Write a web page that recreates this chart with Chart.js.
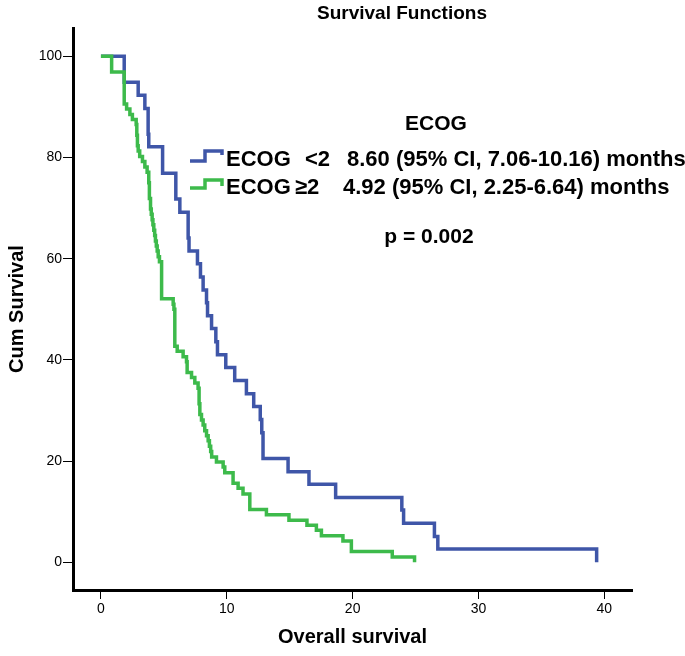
<!DOCTYPE html>
<html>
<head>
<meta charset="utf-8">
<script src="https://cdn.jsdelivr.net/npm/chart.js@4.4.1/dist/chart.umd.min.js"></script>
<style>
  html, body { margin: 0; padding: 0; background: #fff; }
  canvas { display: block; }
</style>
</head>
<body>
<canvas id="km" width="685" height="656"></canvas>
<script>
// Kaplan-Meier steps: time of each drop (months) and cum survival (%) after it
const ecogLowTimes = [0, 1.85, 2.96, 3.49, 3.75, 3.80, 4.90, 5.95, 6.27, 6.93, 7.00, 7.67, 7.91, 8.12,
  8.39, 8.47, 8.79, 9.13, 9.26, 9.92, 10.63, 11.56, 12.14, 12.66, 12.78, 12.88, 14.87, 16.53, 18.65,
  23.91, 24.05, 26.50, 26.77, 39.39];
const ecogLowSurvival = [100, 94.9, 92.3, 89.7, 84.6, 82.1, 76.9, 71.8, 69.2, 64.1, 61.5, 59.0, 56.4, 53.8,
  51.3, 48.7, 46.2, 43.6, 41.0, 38.5, 35.9, 33.3, 30.8, 28.2, 25.6, 20.5, 17.9, 15.4, 12.8,
  10.3, 7.7, 5.1, 2.6, 0];

const ecogHighTimes = [0, 0.85, 1.85, 2.04, 2.30, 2.50, 2.80, 2.85, 2.90, 2.96, 3.08, 3.30, 3.49, 3.67,
  3.80, 3.85, 3.94, 4.00, 4.07, 4.13, 4.20, 4.27, 4.33, 4.40, 4.47, 4.55, 4.65, 4.82, 5.74, 5.80,
  5.87, 6.06, 6.53, 6.80, 6.85, 7.20, 7.46, 7.72, 7.80, 7.86, 7.99, 8.12, 8.25, 8.39, 8.52, 8.62,
  8.72, 8.80, 9.18, 9.71, 9.84, 10.50, 10.90, 11.29, 11.83, 13.15, 14.94, 16.37, 17.12, 17.52,
  19.23, 19.90, 23.15, 24.92];
const ecogHighSurvival = [100, 96.9, 90.6, 89.6, 88.5, 87.5, 86.5, 84.4, 82.3, 81.3, 80.2, 79.2, 78.1, 77.1,
  75.0, 71.9, 69.8, 68.8, 67.7, 66.7, 65.6, 64.6, 63.5, 62.5, 61.5, 60.4, 59.4, 52.1, 51.0, 50.0,
  42.7, 41.7, 40.6, 39.6, 37.5, 36.5, 35.4, 34.4, 31.3, 29.2, 28.1, 27.1, 26.0, 25.0, 24.0, 22.9,
  21.9, 20.8, 19.8, 18.8, 17.7, 15.6, 14.6, 13.5, 10.4, 9.4, 8.3, 7.3, 6.3, 5.2,
  4.2, 2.1, 1.0, 0];

const xTicks = [0, 10, 20, 30, 40];
const yTicks = [0, 20, 40, 60, 80, 100];

const groupNames = ['ECOG', 'ECOG'];
const groupCuts = ['<2', '≥2'];
const groupMedians = ['8.60 (95% CI, 7.06-10.16) months', '4.92 (95% CI, 2.25-6.64) months'];
const colors = ['#3f56a8', '#3dba4b'];

const FONT = '"Liberation Sans", Arial, Helvetica, sans-serif';

function toPoints(times, surv) {
  return times.map((t, i) => ({ x: t, y: surv[i] }));
}

const annotations = {
  id: 'annotations',
  afterDraw(chart) {
    const ctx = chart.ctx;
    ctx.save();
    ctx.fillStyle = '#000';
    ctx.textBaseline = 'alphabetic';

    ctx.font = 'bold 19px ' + FONT;
    ctx.textAlign = 'center';
    ctx.fillText('Survival Functions', 402, 19);

    ctx.font = 'bold 21px ' + FONT;
    ctx.fillText('ECOG', 436, 130);
    ctx.fillText('p = 0.002', 429, 243);

    // legend rows: step-shaped symbol + text
    const rows = [
      { low: 161, high: 151, end: 155, base: 166, cutX: 305, medX: 347 },
      { low: 188, high: 180, end: 186, base: 194, cutX: 295, medX: 343 }
    ];
    ctx.font = 'bold 22px ' + FONT;
    ctx.textAlign = 'left';
    rows.forEach((r, i) => {
      ctx.strokeStyle = colors[i];
      ctx.lineWidth = 3.5;
      ctx.lineJoin = 'miter';
      ctx.beginPath();
      ctx.moveTo(190, r.low);
      ctx.lineTo(205, r.low);
      ctx.lineTo(205, r.high);
      ctx.lineTo(222, r.high);
      ctx.lineTo(222, r.end);
      ctx.stroke();
      ctx.fillText(groupNames[i], 226, r.base);
      ctx.fillText(groupCuts[i], r.cutX, r.base);
      ctx.fillText(groupMedians[i], r.medX, r.base);
    });
    ctx.restore();
  }
};

new Chart(document.getElementById('km'), {
  type: 'line',
  data: {
    datasets: [
      {
        label: 'ECOG <2',
        data: toPoints(ecogLowTimes, ecogLowSurvival),
        borderColor: colors[0],
        order: 1
      },
      {
        label: 'ECOG ≥2',
        data: toPoints(ecogHighTimes, ecogHighSurvival),
        borderColor: colors[1],
        order: 0
      }
    ]
  },
  options: {
    responsive: false,
    animation: false,
    layout: { padding: { top: 28, right: 53, left: 0, bottom: 0 } },
    elements: {
      line: { stepped: 'before', borderWidth: 3.5, fill: false, borderJoinStyle: 'miter', borderCapStyle: 'butt' },
      point: { radius: 0 }
    },
    plugins: { legend: { display: false }, title: { display: false }, tooltip: { enabled: false } },
    scales: {
      x: {
        type: 'linear',
        min: -2.22,
        max: 42.2,
        afterBuildTicks: s => { s.ticks = xTicks.map(v => ({ value: v })); },
        afterFit: s => { s.height = 66; },
        grid: { drawOnChartArea: false, drawTicks: true, tickLength: 9, color: '#000', lineWidth: 1 },
        border: { display: true, color: '#000', width: 3 },
        ticks: { color: '#000', font: { family: FONT, size: 14 }, padding: 2, maxRotation: 0 },
        title: { display: true, text: 'Overall survival', color: '#000',
          font: { family: FONT, size: 20, weight: 'bold' }, padding: { top: 0, bottom: 7 } }
      },
      y: {
        type: 'linear',
        min: -5.5,
        max: 105.6,
        afterBuildTicks: s => { s.ticks = yTicks.map(v => ({ value: v })); },
        afterFit: s => { s.width = 73; },
        grid: { drawOnChartArea: false, drawTicks: true, tickLength: 10, color: '#000', lineWidth: 1 },
        border: { display: true, color: '#000', width: 3 },
        ticks: { color: '#000', font: { family: FONT, size: 14 }, padding: 1 },
        title: { display: true, text: 'Cum Survival', color: '#000',
          font: { family: FONT, size: 20, weight: 'bold' }, padding: { top: 5, bottom: 0 } }
      }
    }
  },
  plugins: [annotations]
});
</script>
</body>
</html>
